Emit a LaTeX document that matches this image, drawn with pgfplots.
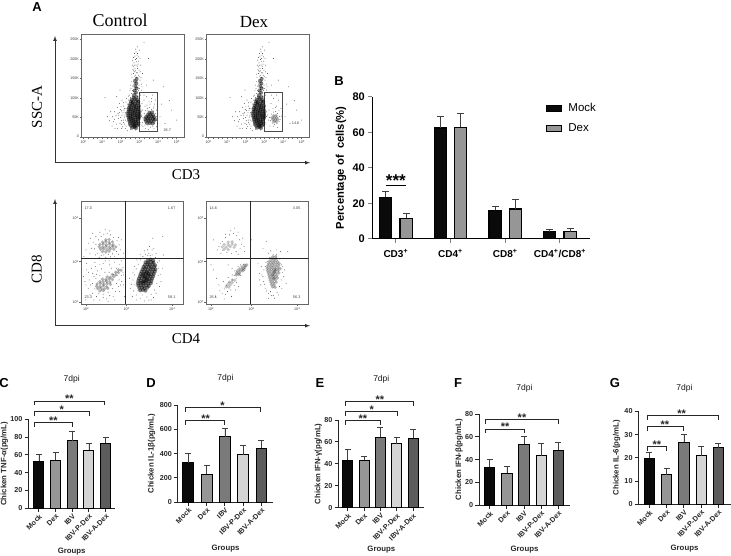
\documentclass[border=0pt]{standalone}
\usepackage{pgfplots}
\usepackage{pgfplotstable}
\usepackage{fontspec}
\pgfplotsset{compat=1.18}
\setmainfont{Liberation Sans}
\newfontfamily\timesf{Liberation Serif}
\newcommand{\fs}[1]{\fontsize{#1}{#1}\selectfont}
\newcommand{\dec}[1]{10\raisebox{1pt}{\fs{2.8}#1}}

\definecolor{cMock}{HTML}{0A0A0A}
\definecolor{cDex}{HTML}{969696}
\definecolor{cIBV}{HTML}{7A7A7A}
\definecolor{cPDex}{HTML}{D4D4D4}
\definecolor{cADex}{HTML}{5C5C5C}
\definecolor{cFrame}{HTML}{666666}

% flow cytometry events, read in image channels of each plot frame
\pgfplotstableread[row sep=\\,header=false]{
341 293\\350 291\\335 299\\344 297\\352 300\\333 304\\339 306\\348 303\\355 305\\331 311\\338 309\\345 312\\352 310\\329 317\\337 315\\343 318\\350 316\\357 318\\327 323\\334 321\\342 324\\348 322\\355 324\\326 329\\333 327\\339 330\\347 328\\353 329\\325 335\\331 333\\338 336\\345 334\\352 335\\359 334\\323 341\\331 340\\337 342\\344 339\\351 341\\357 342\\325 347\\332 346\\338 348\\345 345\\351 347\\358 348\\326 353\\331 352\\339 354\\346 351\\352 353\\357 354\\327 359\\334 357\\340 360\\346 358\\353 359\\329 365\\335 363\\342 366\\348 364\\354 365\\330 371\\337 369\\343 372\\349 370\\355 372\\333 377\\340 375\\345 378\\351 376\\336 383\\343 381\\348 384\\
342 285\\348 278\\344 271\\350 265\\346 258\\349 250\\345 243\\350 236\\
}\mainCore
\pgfplotstableread[row sep=\\,header=false]{
325 300\\331 292\\338 288\\347 281\\352 290\\358 296\\322 312\\359 310\\318 325\\362 327\\316 338\\360 340\\319 350\\365 349\\321 363\\360 367\\325 375\\355 378\\331 388\\346 390\\306 345\\310 360\\300 370\\312 330\\295 355\\303 320\\314 372\\308 380\\298 338\\316 385\\322 392\\311 318\\305 332\\318 306\\313 351\\304 362\\290 372\\296 345\\283 358\\
315 345\\309 338\\302 352\\316 360\\311 367\\305 374\\318 378\\301 328\\294 340\\288 346\\313 325\\320 295\\325 288\\311 308\\298 310\\306 300\\292 322\\276 378\\268 362\\284 335\\292 385\\278 350\\
340 275\\346 268\\352 262\\338 258\\345 250\\351 246\\357 255\\342 238\\349 232\\355 225\\340 220\\346 212\\353 205\\348 195\\342 188\\356 183\\350 175\\345 168\\353 160\\348 155\\358 150\\340 200\\360 240\\335 245\\362 215\\333 265\\365 270\\338 180\\362 195\\352 140\\372 127\\343 228\\350 218\\337 272\\359 280\\345 205\\354 192\\341 252\\336 232\\358 265\\344 215\\352 198\\339 208\\357 210\\343 195\\349 185\\346 178\\341 172\\355 170\\351 165\\360 175\\334 222\\363 232\\331 255\\364 252\\337 195\\347 147\\343 160\\
335 280\\330 272\\328 285\\362 285\\366 260\\356 272\\353 242\\347 225\\341 212\\358 230\\352 218\\
280 365\\262 350\\290 290\\255 292\\425 312\\455 330\\435 370\\470 360\\400 240\\385 175\\430 260\\305 385\\285 385\\272 335\\420 350\\448 302\\368 220\\380 255\\300 270\\
}\mainDots
\pgfplotstableread[row sep=\\,header=false]{
383 345\\391 343\\399 345\\378 351\\386 350\\394 349\\402 351\\376 357\\384 356\\391 356\\399 356\\405 358\\378 363\\386 362\\393 363\\401 363\\382 369\\390 369\\398 370\\388 338\\396 337\\
}\gateCoreA
\pgfplotstableread[row sep=\\,header=false]{
369 352\\373 341\\377 332\\382 326\\388 322\\395 328\\401 333\\406 341\\410 350\\372 362\\377 371\\384 377\\391 381\\398 378\\404 371\\409 362\\366 310\\372 300\\380 290\\387 305\\395 296\\403 312\\369 380\\376 386\\410 380\\402 386\\375 318\\390 312\\368 330\\365 345\\367 368\\384 332\\400 324\\410 330\\398 285\\372 285\\406 300\\381 315\\394 305\\366 375\\386 388\\412 370\\375 375\\402 320\\
}\gateDotsA
\pgfplotstableread[row sep=\\,header=false]{
386 347\\393 346\\381 353\\388 353\\395 352\\384 359\\391 359\\398 358\\387 365\\394 365\\
}\gateCoreB
\pgfplotstableread[row sep=\\,header=false]{
374 352\\379 342\\385 336\\392 334\\398 340\\403 349\\405 358\\376 362\\382 369\\389 373\\396 370\\402 364\\378 310\\386 295\\394 318\\401 300\\372 330\\408 325\\375 378\\398 382\\368 345\\370 360\\384 326\\392 322\\402 332\\409 348\\385 378\\380 285\\395 285\\
}\gateDotsB

\pgfplotstableread[row sep=\\,header=false]{
385 226\\393 224\\401 227\\378 232\\386 233\\394 231\\402 233\\376 240\\384 238\\391 240\\399 238\\407 241\\372 246\\380 247\\388 245\\396 247\\404 246\\369 253\\377 252\\385 254\\393 252\\401 254\\408 253\\366 260\\374 259\\382 261\\390 259\\398 261\\406 260\\363 267\\371 266\\379 268\\387 266\\395 268\\403 267\\361 274\\369 273\\377 275\\385 273\\393 275\\401 274\\358 281\\366 280\\374 282\\382 280\\390 282\\398 281\\356 288\\364 287\\372 289\\380 287\\388 289\\396 288\\355 295\\363 294\\371 296\\379 294\\387 296\\394 295\\356 302\\364 301\\372 303\\380 301\\388 303\\359 309\\367 308\\375 310\\383 308\\362 316\\370 315\\378 317\\
376 278\\384 284\\372 270\\380 263\\388 270\\376 290\\368 292\\
}\cdCoreA
\pgfplotstableread[row sep=\\,header=false]{
258 165\\268 164\\248 172\\258 171\\268 173\\278 171\\240 179\\250 178\\260 180\\270 178\\280 180\\238 186\\248 187\\258 185\\268 187\\278 185\\288 186\\242 193\\252 192\\262 194\\272 192\\282 193\\248 200\\258 201\\268 199\\
296 255\\304 256\\288 262\\296 263\\278 269\\288 270\\262 276\\272 277\\282 275\\248 283\\258 284\\268 282\\278 284\\240 290\\250 291\\260 289\\270 291\\232 297\\242 296\\252 298\\262 296\\272 298\\230 304\\240 305\\250 303\\260 305\\234 311\\244 310\\254 312\\264 310\\240 318\\250 317\\
}\cdLightA
\pgfplotstableread[row sep=\\,header=false]{
228 178\\236 165\\244 155\\252 148\\262 145\\272 150\\282 158\\292 168\\298 180\\302 195\\296 208\\285 214\\272 216\\258 218\\244 212\\232 205\\224 192\\205 175\\212 160\\198 195\\210 205\\218 145\\305 165\\312 205\\220 172\\215 190\\226 210\\238 218\\252 210\\266 208\\278 207\\290 200\\296 158\\270 138\\256 135\\240 142\\228 155\\
192 215\\200 235\\215 250\\225 232\\240 240\\256 228\\270 240\\285 232\\300 238\\310 248\\305 272\\292 272\\280 268\\268 262\\255 262\\240 272\\228 280\\218 296\\225 312\\235 325\\250 328\\265 322\\278 310\\290 296\\298 285\\208 285\\198 300\\210 330\\196 345\\222 345\\240 345\\260 342\\280 335\\300 320\\312 300\\315 335\\218 265\\206 262\\190 275\\205 310\\218 325\\230 335\\250 338\\270 332\\288 320\\296 305\\306 290\\312 270\\290 250\\275 250\\245 252\\232 258\\222 275\\
200 255\\195 290\\212 300\\226 245\\250 235\\268 228\\292 222\\305 228\\310 262\\302 300\\285 345\\265 350\\245 315\\230 268\\
345 270\\350 252\\356 238\\362 225\\370 215\\378 208\\388 205\\398 210\\408 218\\414 232\\418 250\\416 272\\412 295\\405 315\\395 328\\382 336\\368 330\\355 318\\346 300\\340 285\\392 212\\384 195\\374 198\\398 195\\330 280\\332 310\\338 335\\350 345\\375 348\\395 345\\425 290\\430 250\\432 210\\400 160\\430 155\\340 262\\344 245\\352 225\\362 208\\376 222\\410 205\\420 228\\424 268\\420 305\\410 325\\402 338\\388 345\\362 340\\350 330\\342 318\\336 298\\385 212\\403 190\\390 185\\
}\cdDotsA
\pgfplotstableread[row sep=\\,header=false]{
300 241\\306 240\\292 246\\300 247\\284 252\\292 253\\298 252\\278 258\\286 259\\294 258\\276 264\\284 265\\274 270\\282 269\\
385 216\\393 215\\380 222\\388 223\\396 222\\375 229\\383 230\\391 229\\399 230\\372 236\\380 237\\388 236\\396 237\\404 236\\370 243\\378 244\\386 243\\394 244\\402 243\\368 250\\376 251\\384 250\\392 251\\400 250\\407 251\\369 257\\377 258\\385 257\\393 258\\401 257\\371 264\\379 265\\387 264\\395 265\\403 264\\373 271\\381 272\\389 271\\397 272\\375 278\\383 279\\391 278\\399 279\\377 285\\385 286\\393 285\\379 292\\387 293\\395 292\\381 299\\389 300\\384 306\\392 307\\
389 262\\385 270\\392 255\\388 280\\
}\cdCoreB
\pgfplotstableread[row sep=\\,header=false]{
250 172\\262 171\\238 179\\250 180\\262 178\\272 180\\232 186\\244 187\\256 185\\268 187\\238 193\\250 194\\
262 285\\270 286\\254 292\\262 293\\248 299\\256 300\\244 306\\252 307\\
}\cdLightB
\pgfplotstableread[row sep=\\,header=false]{
222 185\\232 170\\242 158\\254 150\\266 146\\276 152\\284 165\\290 178\\286 192\\274 200\\260 205\\246 202\\234 196\\226 175\\270 130\\205 165\\300 200\\218 195\\228 205\\242 148\\258 138\\280 142\\294 160\\298 185\\280 208\\
250 240\\262 250\\270 258\\268 272\\280 244\\288 240\\296 238\\304 245\\300 256\\288 272\\276 280\\264 285\\252 292\\244 302\\238 312\\248 320\\258 315\\268 302\\275 292\\232 325\\222 300\\215 280\\205 255\\198 240\\282 305\\260 335\\238 342\\212 335\\235 290\\225 318\\250 278\\262 270\\242 328\\272 315\\
362 245\\368 230\\376 218\\386 208\\396 210\\406 222\\412 240\\414 262\\410 285\\405 305\\398 322\\386 332\\372 325\\362 310\\356 290\\352 270\\408 200\\395 195\\378 198\\348 300\\345 265\\372 340\\420 255\\425 295\\340 235\\430 200\\365 170\\320 165\\355 190\\358 255\\355 275\\360 298\\366 318\\378 320\\350 245\\364 232\\372 205\\415 245\\418 275\\412 310\\402 330\\390 340\\380 332\\345 285\\
}\cdDotsB

\tikzset{
  gate/.style={draw=black!70,line width=.5pt},
  pct/.style={font=\fs{3.8},text=black!75},
}
\pgfplotsset{
  flow/.style={
    scale only axis,width=102.6pt,height=103.5pt,
    axis line style={cFrame,line width=.5pt},
    y dir=reverse,
    tick align=outside,major tick length=1.6pt,minor tick length=.8pt,
    tick style={cFrame,line width=.3pt},
    ticklabel style={font=\fs{3.7},text=black!75},
    xtick pos=bottom,ytick pos=left,
    minor x tick num=3,
    every tick label/.append style={inner sep=1pt},
  },
  flowA/.style={flow,xmin=185,xmax=493,ymin=102,ymax=413,
    xtick={190,246,302,358,414,470},
    xticklabels={\dec{0},\dec{1},\dec{2},\dec{3},\dec{4},\dec{5}},
    ytick={410,352,293,235,176,118},
    yticklabels={0,50K,100K,150K,200K,250K},minor y tick num=4},
  flowB/.style={flow,xmin=183,xmax=493,ymin=48,ymax=358,
    xtick={198,320,458},xticklabels={\dec{2},\dec{3},\dec{4}},
    ytick={352,230,100},yticklabels={\dec{2},\dec{3},\dec{4}},minor y tick num=3},
  events/.style={only marks,mark=*,mark size=.45pt,black,mark options={fill=black,draw opacity=0,fill opacity=.75}},
  cores/.style={only marks,mark=*,mark size=2pt,mark options={fill=black,draw opacity=0,fill opacity=.5}},
  lights/.style={only marks,mark=*,mark size=1.8pt,mark options={fill=black,draw opacity=0,fill opacity=.3}},
  gbars/.style={
    scale only axis,ybar,bar width=10pt,bar shift=0pt,clip=false,
    axis lines=left,axis line style={-,line width=.95pt,black!85},
    tick style={line width=.9pt,black!85},tick align=outside,major tick length=3.6pt,
    ymin=0,xtick={0,1,2,3,4},
    /pgf/number format/assume math mode=true,
    xticklabels={Mock,Dex,IBV,IBV-P-Dex,IBV-A-Dex},
    x tick label style={rotate=45,anchor=north east,font=\fs{7.2}\bfseries,inner sep=1pt,text=black!85},
    y tick label style={font=\fs{7.2}\bfseries,inner sep=2pt,text=black!85},
    label style={font=\fs{7.8}\bfseries,text=black!85},
    xlabel={Groups},
    title={7dpi},
    title style={font=\fs{8.5},text=black!90},
  },
}
\newcommand{\gbar}[4]{\addplot[fill=#4,draw=black,line width=.9pt,
  error bars/.cd,y dir=plus,y explicit,
  error bar style={line width=.6pt,black!75},
  error mark options={rotate=90,mark size=3pt,line width=.6pt,black!75}]
  coordinates {(#1,#2) +- (0,#3)};}
% bracket: left, right, level, star x, stars
\newcommand{\sig}[5]{\draw[line width=.8pt,black!85] ([yshift=-4.5pt]axis cs:#1,#3)--(axis cs:#1,#3)--(axis cs:#2,#3)--([yshift=-4.5pt]axis cs:#2,#3);
  \node[font=\fs{11}\bfseries,text=black!85,inner sep=0pt] at ([yshift=2pt]axis cs:#4,#3) {#5};}

\begin{document}
\begin{tikzpicture}[x=1pt,y=-1pt]
\useasboundingbox (0,0) rectangle (731,556);

% A
\node[font=\fs{13}\bfseries] at (37,7) {A};
\node[font=\timesf\fs{18}] at (120,20) {Control};
\node[font=\timesf\fs{17}] at (254,22) {Dex};
\node[font=\timesf\fs{15},rotate=90] at (37,107) {SSC-A};
\node[font=\timesf\fs{15}] at (186,175) {CD3};
\draw[-latex,line width=.7pt,black!80] (55,162.7)--(55,36);
\draw[-latex,line width=.7pt,black!80] (55,162.7)--(310,162.7);

\begin{axis}[flowA,at={(81.7pt,-137.7pt)},anchor=south west]
  \addplot[cores] table {\mainCore};
  \addplot[events] table {\mainDots};
  \addplot[cores] table {\gateCoreA};
  \addplot[events] table {\gateDotsA};
  \draw[gate] (axis cs:358,277) rectangle (axis cs:413,393);
  \node[pct] at (axis cs:442,390) {26.7};
\end{axis}
\begin{axis}[flowA,at={(206.7pt,-137.7pt)},anchor=south west]
  \addplot[cores] table {\mainCore};
  \addplot[events] table {\mainDots};
  \addplot[lights] table {\gateCoreB};
  \addplot[events] table {\gateDotsB};
  \draw[gate] (axis cs:358,277) rectangle (axis cs:413,393);
  \node[pct] at (axis cs:452,369) {14.6};
\end{axis}

% lower dot plots
\node[font=\timesf\fs{15},rotate=90] at (36.7,269) {CD8};
\node[font=\timesf\fs{15}] at (186,339) {CD4};
\draw[-latex,line width=.7pt,black!80] (55,325.7)--(55,199);
\draw[-latex,line width=.7pt,black!80] (55,325.7)--(310,325.7);

\begin{axis}[flowB,at={(81pt,-304.3pt)},anchor=south west]
  \addplot[lights] table {\cdLightA};
  \addplot[cores] table {\cdCoreA};
  \addplot[events] table {\cdDotsA};
  \draw[black!85,line width=.6pt] (axis cs:317,48)--(axis cs:317,358) (axis cs:183,220)--(axis cs:493,220);
  \node[pct] at (axis cs:205,70) {17.0};
  \node[pct] at (axis cs:457,70) {1.67};
  \node[pct] at (axis cs:205,337) {23.3};
  \node[pct] at (axis cs:457,337) {58.1};
\end{axis}
\begin{axis}[flowB,at={(206pt,-304.3pt)},anchor=south west]
  \addplot[lights,mark options={fill=black,draw opacity=0,fill opacity=.22}] table {\cdLightB};
  \addplot[lights] table {\cdCoreB};
  \addplot[events] table {\cdDotsB};
  \draw[black!85,line width=.6pt] (axis cs:317,48)--(axis cs:317,358) (axis cs:183,220)--(axis cs:493,220);
  \node[pct] at (axis cs:205,70) {14.6};
  \node[pct] at (axis cs:457,70) {3.05};
  \node[pct] at (axis cs:205,337) {26.1};
  \node[pct] at (axis cs:457,337) {56.3};
\end{axis}

% B
\node[font=\fs{13}\bfseries] at (339,81) {B};
\begin{axis}[scale only axis,at={(372.3pt,-238.7pt)},anchor=south west,width=217.7pt,height=141.7pt,
  ybar,bar width=12.2pt,clip=false,
  xmin=-0.43,xmax=3.55,ymin=0,ymax=80,
  axis lines=left,axis line style={-,line width=1pt},
  tick style={line width=1pt},tick align=outside,major tick length=4pt,
  /pgf/number format/assume math mode=true,
  xtick={0,1,2,3},
  xticklabels={CD3\textsuperscript{+},CD4\textsuperscript{+},CD8\textsuperscript{+},CD4\textsuperscript{+}/CD8\textsuperscript{+}},
  ytick={0,20,40,60,80},
  x tick label style={font=\fs{10}\bfseries,yshift=-3.5pt},
  y tick label style={font=\fs{11}\bfseries},
  ylabel={Percentage of\ \ cells(\%)},
  ylabel style={at={(axis description cs:0,0.5)},anchor=center,yshift=31.3pt,font=\fs{11.2}\bfseries},
  legend cell align=left,
  legend style={at={(rel axis cs:0.798,0.969)},anchor=north west,draw=none,fill=none,font=\fs{11.5},row sep=6.5pt,inner sep=0pt},
  legend image code/.code={\draw[#1,line width=1.2pt] (0pt,-3.2pt) rectangle (14.5pt,3.2pt); \path (19pt,0pt);},
]
  \addplot[fill=cMock,draw=black,line width=1.2pt,bar shift=-10.2pt,
    error bars/.cd,y dir=plus,y explicit,error bar style={line width=.6pt,black!75},
    error mark options={rotate=90,mark size=3.5pt,line width=.6pt,black!75}]
    coordinates {(0,23.3) +- (0,3.2) (1,62.5) +- (0,6.8) (2,16) +- (0,2.5) (3,4) +- (0,1.3)};
  \addlegendentry{Mock}
  \addplot[fill=cDex,draw=black,line width=1.2pt,bar shift=10.2pt,
    error bars/.cd,y dir=plus,y explicit,error bar style={line width=.6pt,black!75},
    error mark options={rotate=90,mark size=3.5pt,line width=.6pt,black!75}]
    coordinates {(0,11.5) +- (0,2.8) (1,63) +- (0,8) (2,16.8) +- (0,5.4) (3,4) +- (0,1.8)};
  \addlegendentry{Dex}
  \draw[line width=.9pt] (axis cs:-0.186,29.9)--(axis cs:0.186,29.9);
  \node[font=\fs{17}\bfseries,inner sep=0pt] at ([yshift=5.4pt]axis cs:0,29.9) {***};
\end{axis}

% C
\node[font=\fs{13}\bfseries] at (4,383) {C};
\begin{axis}[gbars,at={(28.3pt,-508.3pt)},anchor=south west,width=86.7pt,height=89pt,
  xmin=-0.63,xmax=4.56,ymax=100,ytick={0,20,40,60,80,100},
  ylabel={Chicken TNF-α(pg/mL)},
  ylabel style={at={(axis description cs:0,0.5)},anchor=center,yshift=23.8pt},
  xlabel style={at={(axis description cs:0.5,0)},anchor=center,yshift=-43.4pt},
  title style={at={(axis description cs:0.5,1)},anchor=center,yshift=34pt},
]
  \gbar{0}{53.2}{7.8}{cMock}
  \gbar{1}{54}{8.5}{cDex}
  \gbar{2}{75.7}{11.2}{cIBV}
  \gbar{3}{65.5}{7.9}{cPDex}
  \gbar{4}{73.4}{6.7}{cADex}
  \sig{-0.29}{2}{96.3}{0.87}{**}
  \sig{-0.29}{3}{108.6}{1.37}{*}
  \sig{-0.25}{3.92}{120.6}{1.83}{**}
\end{axis}

% D
\node[font=\fs{13}\bfseries] at (151,383) {D};
\begin{axis}[gbars,at={(177.7pt,-502pt)},anchor=south west,width=95.6pt,height=96.7pt,
  xmin=-0.58,xmax=4.65,ymax=800,ytick={0,200,400,600,800},bar width=10.8pt,
  ylabel={Chicken IL-1β(pg/mL)},
  ylabel style={at={(axis description cs:0,0.5)},anchor=center,yshift=26pt},
  xlabel style={at={(axis description cs:0.5,0)},anchor=center,yshift=-46.3pt},
  title style={at={(axis description cs:0.5,1)},anchor=center,yshift=20.6pt},
]
  \gbar{0}{325}{75}{cMock}
  \gbar{1}{230}{70}{cDex}
  \gbar{2}{540}{72}{cIBV}
  \gbar{3}{392}{76}{cPDex}
  \gbar{4}{443}{69}{cADex}
  \sig{-0.16}{2}{676}{0.95}{**}
  \sig{-0.16}{3.96}{781}{1.87}{*}
\end{axis}

% E
\node[font=\fs{13}\bfseries] at (320,383) {E};
\begin{axis}[gbars,at={(338.3pt,-507.7pt)},anchor=south west,width=86pt,height=87.7pt,
  xmin=-0.58,xmax=4.69,ymax=80,ytick={0,20,40,60,80},
  ylabel={Chicken IFN-γ(pg/mL)},
  ylabel style={at={(axis description cs:0,0.5)},anchor=center,yshift=20pt},
  xlabel style={at={(axis description cs:0.5,0)},anchor=center,yshift=-42.3pt},
  title style={at={(axis description cs:0.5,1)},anchor=center,yshift=35pt},
]
  \gbar{0}{43.5}{10}{cMock}
  \gbar{1}{43.5}{3.3}{cDex}
  \gbar{2}{64.5}{8.8}{cIBV}
  \gbar{3}{58.4}{5.4}{cPDex}
  \gbar{4}{63.2}{8.5}{cADex}
  \sig{-0.17}{2}{79.3}{0.93}{**}
  \sig{-0.17}{3.03}{87.8}{1.47}{*}
  \sig{-0.17}{4.05}{97}{1.97}{**}
\end{axis}

% F
\node[font=\fs{13}\bfseries] at (458,383) {F};
\begin{axis}[gbars,at={(479pt,-505.3pt)},anchor=south west,width=91pt,height=91.3pt,
  xmin=-0.62,xmax=4.67,ymax=80,ytick={0,20,40,60,80},bar width=10.4pt,
  ylabel={Chicken IFN-β(pg/mL)},
  ylabel style={at={(axis description cs:0,0.5)},anchor=center,yshift=20pt},
  xlabel style={at={(axis description cs:0.5,0)},anchor=center,yshift=-44pt},
  title style={at={(axis description cs:0.5,1)},anchor=center,yshift=19.7pt},
]
  \gbar{0}{33.6}{7}{cMock}
  \gbar{1}{28}{6.2}{cDex}
  \gbar{2}{53.4}{7}{cIBV}
  \gbar{3}{43.5}{10.8}{cPDex}
  \gbar{4}{48.5}{7}{cADex}
  \sig{-0.25}{2}{66.9}{0.9}{**}
  \sig{-0.25}{4}{75.3}{1.88}{**}
\end{axis}

% G
\node[font=\fs{13}\bfseries] at (615,383) {G};
\begin{axis}[gbars,at={(638.3pt,-504.3pt)},anchor=south west,width=92.4pt,height=93pt,
  xmin=-0.64,xmax=4.71,ymax=40,ytick={0,10,20,30,40},bar width=10.4pt,
  ylabel={Chicken IL-6(pg/mL)},
  ylabel style={at={(axis description cs:0,0.5)},anchor=center,yshift=21.6pt},
  xlabel style={at={(axis description cs:0.5,0)},anchor=center,yshift=-44.7pt},
  title style={at={(axis description cs:0.5,1)},anchor=center,yshift=17pt},
]
  \gbar{0}{19.8}{2.6}{cMock}
  \gbar{1}{12.8}{2.5}{cDex}
  \gbar{2}{26.8}{3.3}{cIBV}
  \gbar{3}{20.9}{4}{cPDex}
  \gbar{4}{24.4}{2}{cADex}
  \sig{-0.13}{0.96}{24.9}{0.43}{**}
  \sig{-0.13}{1.95}{33.5}{0.9}{**}
  \sig{-0.13}{3.98}{38.1}{1.87}{**}
\end{axis}
\end{tikzpicture}
\end{document}
